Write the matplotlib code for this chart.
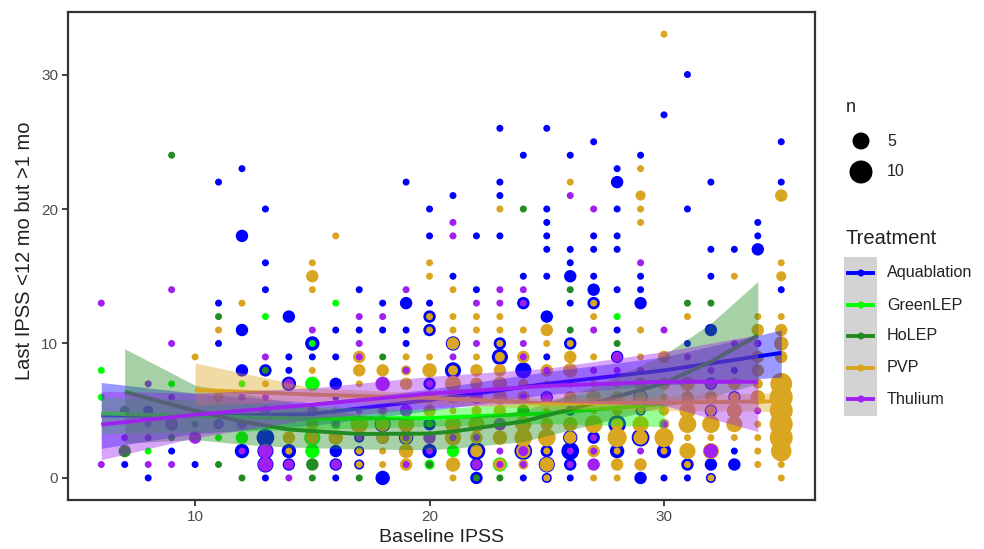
import numpy as np
import matplotlib
matplotlib.use('Agg')
import matplotlib.pyplot as plt
from matplotlib.patches import Rectangle, Ellipse
from matplotlib.lines import Line2D

plt.rcParams['font.family'] = ['Liberation Sans', 'DejaVu Sans']

# points are (baseline, last, n)
aqua_pts = [(31,30,1),(30,27,1),(23,26,1),(25,26,1),(27,25,1),(35,25,1),(24,24,1),(26,24,1),(29,24,1),
    (12,23,1),(28,23,1),(11,22,1),(19,22,1),(23,22,1),(28,22,3),(32,22,1),(35,22,1),(21,21,1),(23,21,1),
    (13,20,1),(20,20,1),(25,20,1),(28,20,1),(31,20,1),(25,19,1),(34,19,1),(12,18,3),(20,18,1),(22,18,1),
    (23,18,1),(25,18,1),(27,18,1),(28,18,1),(34,18,1),(25,17,1),(26,17,1),(27,17,1),(28,17,1),(32,17,1),
    (33,17,1),(34,17,3),(13,16,1),(26,16,1),(21,15,1),(24,15,1),(25,15,1),(26,15,3),(27,15,1),(29,15,1),
    (32,15,1),(13,14,1),(17,14,1),(22,14,1),(27,14,3),(28,14,1),(29,14,1),(35,14,1),(11,13,1),(18,13,1),
    (19,13,3),(20,13,1),(24,13,3),(26,13,1),(27,13,3),(29,13,3),(14,12,3),(20,12,3),(25,12,3),(12,11,3),
    (16,11,1),(17,11,1),(18,11,1),(19,11,1),(20,11,3),(28,11,1),(32,11,3),(11,10,1),(15,10,4),(19,10,1),
    (21,10,4),(23,10,3),(26,10,3),(31,10,1),(34,10,1),(14,9,1),(15,9,1),(16,9,1),(23,9,5),(25,9,1),(28,9,3),
    (12,8,3),(13,8,3),(14,8,1),(21,8,5),(24,8,5),(33,8,1),(14,7,4),(16,7,3),(20,7,3),(26,7,1),(32,7,3),
    (16,6,1),(22,6,3),(25,6,3),(29,6,4),(33,6,3),(8,5,2),(24,5,1),(26,5,2),(29,5,2),(32,5,3),(33,5,4),
    (9,4,3),(11,4,2),(18,4,5),(20,4,3),(28,4,6),(30,4,2),(13,3,6),(17,3,2),(18,3,3),(19,3,4),(26,3,4),
    (27,3,3),(29,3,6),(9,2,1),(12,2,4),(13,2,5),(14,2,4),(16,2,3),(17,2,2),(20,2,4),(22,2,6),(24,2,6),
    (25,2,3),(26,2,6),(28,2,4),(30,2,4),(33,2,1),(7,1,1),(10,1,1),(13,1,5),(14,1,3),(16,1,3),(17,1,2),
    (22,1,3),(25,1,5),(26,1,3),(31,1,3),(32,1,3),(33,1,3),(8,0,1),(13,0,1),(16,0,1),(18,0,4),(22,0,3),
    (24,0,1),(25,0,2),(26,0,1),(29,0,3),(30,0,1),(31,0,1),(32,0,2)]

green_pts = [(13,12,1),(16,13,1),(28,12,1),(15,10,1),(6,8,1),(12,7,1),(9,7,1),(15,7,4),(6,6,1),(16,4,2),
    (11,3,1),(12,3,3),(15,3,5),(22,3,2),(8,2,1),(15,2,4),(21,2,3),(20,1,2),(23,1,4)]

holep_pts = [(9,24,1),(24,20,1),(26,14,1),(11,12,1),(31,13,1),(32,13,1),(26,11,1),(28,10,1),(18,9,1),(13,8,1),
    (23,5,1),(24,5,3),(10,4,1),(7,5,2),(9,3,1),(20,4,1),(7,2,3),(11,1,1),(15,1,3),(20,1,1),(12,0,1),
    (15,0,1),(17,0,1),(22,0,1),(23,0,1)]

pvp_pts = [(30,33,1),(29,23,1),(26,22,1),(35,21,3),(29,21,2),(23,20,1),(29,20,1),(29,19,1),(16,18,1),(15,16,1),
    (20,16,1),(35,16,1),(15,15,3),(20,15,1),(33,15,1),(35,15,2),(15,14,1),(21,14,1),(12,13,1),(27,13,1),
    (11,11,1),(20,12,1),(21,12,1),(22,12,1),(23,12,1),(27,12,1),(31,12,1),(34,12,1),(35,12,1),(20,11,1),
    (21,11,1),(22,11,1),(23,11,1),(24,11,1),(25,11,3),(29,11,1),(34,11,3),(35,11,3),(21,10,3),(23,10,1),
    (25,10,1),(26,10,1),(35,10,4),(10,9,1),(17,9,3),(19,9,1),(20,9,1),(22,9,1),(23,9,2),(24,9,3),(26,9,3),
    (27,9,1),(29,9,1),(30,9,3),(34,9,3),(35,9,3),(15,8,1),(17,8,3),(18,8,3),(19,8,2),(20,8,4),(21,8,2),
    (22,8,3),(23,8,3),(25,8,3),(26,8,4),(34,8,3),(13,7,1),(17,7,1),(19,7,3),(21,7,5),(22,7,3),(23,7,4),
    (24,7,2),(25,7,1),(27,7,1),(28,7,1),(29,7,3),(30,7,3),(31,7,4),(33,7,3),(34,7,2),(35,7,9),(11,6,2),
    (20,6,3),(21,6,3),(23,6,4),(24,6,3),(26,6,3),(27,6,4),(28,6,3),(29,6,3),(30,6,1),(31,6,3),(32,6,3),
    (33,6,2),(34,6,4),(35,6,10),(16,5,1),(18,5,2),(20,5,3),(21,5,1),(22,5,2),(23,5,3),(25,5,1),(27,5,1),
    (28,5,2),(29,5,1),(30,5,2),(31,5,5),(32,5,2),(33,5,4),(35,5,10),(15,4,3),(17,4,6),(18,4,4),(19,4,5),
    (21,4,5),(22,4,5),(23,4,3),(24,4,5),(25,4,3),(26,4,4),(27,4,6),(28,4,3),(29,4,5),(30,4,2),(31,4,6),
    (32,4,6),(33,4,5),(34,4,1),(35,4,10),(14,3,3),(15,3,3),(16,3,4),(18,3,3),(19,3,3),(21,3,5),(22,3,3),
    (23,3,4),(24,3,6),(25,3,6),(26,3,3),(28,3,7),(29,3,4),(30,3,7),(31,3,1),(32,3,1),(33,3,1),(34,3,1),
    (35,3,10),(14,2,1),(17,2,1),(18,2,1),(19,2,4),(22,2,3),(24,2,4),(25,2,1),(27,2,3),(28,2,1),(30,2,1),
    (31,2,5),(32,2,5),(34,2,1),(35,2,8),(17,1,1),(18,1,1),(19,1,3),(21,1,4),(23,1,3),(24,1,2),(25,1,4),
    (28,1,3),(29,1,3),(31,1,1),(34,1,1),(35,1,1),(21,0,1),(25,0,1),(27,0,1),(28,0,1),(32,0,1),(35,0,1)]

thulium_pts = [(27,20,1),(21,19,1),(21,18,1),(26,21,1),(29,16,1),(9,14,1),(19,14,1),(23,14,1),(24,14,1),(6,13,1),
    (22,13,1),(23,13,1),(24,13,1),(17,12,1),(18,12,1),(15,11,1),(27,11,1),(30,11,1),(9,10,1),(17,10,1),
    (22,10,1),(24,10,1),(33,10,1),(34,10,1),(13,9,1),(17,9,1),(21,9,1),(24,9,1),(28,9,2),(31,9,1),(25,8,1),
    (27,8,1),(28,8,1),(29,8,1),(32,8,1),(19,8,1),(8,7,1),(14,7,2),(18,7,4),(20,7,1),(32,7,2),(9,6,1),
    (12,6,1),(13,6,1),(22,6,3),(24,6,1),(25,6,2),(13,5,2),(15,5,2),(17,5,1),(18,5,1),(19,5,3),(34,5,1),
    (8,4,1),(9,4,2),(11,4,1),(12,4,2),(16,4,1),(23,4,3),(30,4,1),(7,3,1),(8,3,1),(10,3,3),(17,3,1),(19,3,1),
    (20,3,3),(21,3,1),(22,3,1),(27,3,1),(12,2,1),(13,2,4),(20,2,1),(23,2,1),(24,2,2),(26,2,1),(27,2,1),
    (29,2,1),(32,2,4),(6,1,1),(8,1,1),(9,1,1),(13,1,4),(14,1,2),(16,1,2),(19,1,1),(22,1,2),(23,1,1),(24,1,1),
    (26,1,1),(27,1,3),(14,0,1)]

# smooth curves: x, fit, upper, lower
aqua_x = [6, 10, 15, 20, 25, 30, 35]
aqua_fit = [4.65, 4.6, 4.75, 5.8, 7.0, 8.0, 9.3]
aqua_hi = [7.1, 6.3, 5.6, 6.6, 7.9, 9.0, 11.0]
aqua_lo = [2.2, 3.3, 3.9, 5.0, 6.2, 6.9, 7.5]

green_x = [6, 10, 15, 20, 25, 30]
green_fit = [4.8, 4.6, 4.4, 4.45, 4.8, 5.5]
green_hi = [6.0, 5.8, 5.3, 5.1, 5.7, 7.5]
green_lo = [3.3, 3.4, 3.6, 3.85, 4.05, 3.8]

holep_x = [7, 10, 12, 14, 17, 20, 21, 24, 27, 30, 32, 34]
holep_fit = [6.4, 5.0, 4.2, 3.6, 3.27, 3.3, 3.45, 4.2, 5.55, 7.05, 8.65, 10.6]
holep_hi = [9.6, 6.9, 6.3, 5.6, 4.7, 4.3, 4.4, 5.0, 6.8, 9.15, 11.5, 14.6]
holep_lo = [2.6, 2.85, 2.5, 2.3, 2.15, 2.1, 2.2, 2.7, 4.0, 5.3, 6.0, 7.0]

pvp_x = [10, 15, 20, 25, 30, 35]
pvp_fit = [6.55, 6.2, 5.95, 5.55, 5.6, 5.7]
pvp_hi = [8.55, 6.7, 6.3, 5.95, 6.1, 6.35]
pvp_lo = [5.4, 5.7, 5.5, 5.15, 5.0, 4.95]

thulium_x = [6, 10, 15, 20, 25, 30, 34]
thulium_fit = [3.97, 4.7, 5.45, 6.27, 6.85, 7.15, 7.15]
thulium_hi = [6.45, 6.3, 6.7, 7.55, 8.15, 9.4, 10.65]
thulium_lo = [1.35, 3.0, 4.4, 5.2, 5.65, 5.4, 3.45]

treatments = ['Aquablation', 'GreenLEP', 'HoLEP', 'PVP', 'Thulium']
colors = ['#0000FF', '#00FF00', '#228B22', '#DAA520', '#A020F0']
all_pts = [aqua_pts, green_pts, holep_pts, pvp_pts, thulium_pts]
curves = [(aqua_x, aqua_fit, aqua_hi, aqua_lo), (green_x, green_fit, green_hi, green_lo),
          (holep_x, holep_fit, holep_hi, holep_lo), (pvp_x, pvp_fit, pvp_hi, pvp_lo),
          (thulium_x, thulium_fit, thulium_hi, thulium_lo)]


def dot_size(n):
    d = 7 + 16 * (np.sqrt(n) - 1) / (np.sqrt(10) - 1)
    return (d * 0.72) ** 2


W, H = 984, 549
fig = plt.figure(figsize=(W / 100, H / 100), dpi=100)
ax = fig.add_axes([68 / W, 1 - 500 / H, (815 - 68) / W, (500 - 12) / H])

z = 2
for pts, col in zip(all_pts, colors):
    p = np.array(pts, dtype=float)
    # bigger counts first so the small ones stay visible
    p = p[np.argsort(-p[:, 2])]
    ax.scatter(p[:, 0], p[:, 1], s=dot_size(p[:, 2]), color=col, linewidths=0, zorder=z)
    z += 1

for (cx, fit, hi, lo), col in zip(curves, colors):
    ax.fill_between(cx, lo, hi, color=col, alpha=0.4, linewidth=0, zorder=z)
    ax.plot(cx, fit, color=col, lw=2.8, zorder=z + 1, solid_capstyle='butt')
    z += 2

ax.set_xlim(4.58, 36.44)
ax.set_ylim(-1.64, 34.65)
ax.set_xticks([10, 20, 30])
ax.set_yticks([0, 10, 20, 30])
ax.tick_params(length=4, width=1.3, color='#333333', labelcolor='#4D4D4D', labelsize=11, pad=3)
for s in ax.spines.values():
    s.set_linewidth(1.6)
    s.set_color('#333333')
ax.set_xlabel('Baseline IPSS', fontsize=14, color='#222222', labelpad=4)


# legends drawn by hand in pixel positions
def px(x, y):
    return x / W, 1 - y / H


fig.text(*px(25, 251), 'Last IPSS <12 mo but >1 mo', fontsize=14.5, color='#222222',
         rotation=90, va='center', ha='center')

fig.text(*px(846, 107), 'n', fontsize=13, va='center', color='#222222')
for yy, d, lab in [(141, 17, '5'), (172, 23, '10')]:
    fig.add_artist(Ellipse(px(861, yy), d / W, d / H, color='black', lw=0, transform=fig.transFigure))
    fig.text(*px(887, yy), lab, fontsize=11.5, va='center', color='#222222')

fig.text(*px(845, 238), 'Treatment', fontsize=14.5, va='center', color='#222222')
fig.add_artist(Rectangle(px(844, 416), 33 / W, 159 / H, color='#D3D3D3', lw=0, transform=fig.transFigure))
for yy, lab, col in zip([273, 305, 336, 368, 399], treatments, colors):
    x0, y0 = px(848, yy)
    x1, _ = px(873, yy)
    fig.add_artist(Line2D([x0, x1], [y0, y0], color=col, lw=2.8, transform=fig.transFigure))
    fig.add_artist(Ellipse(px(861, yy), 7 / W, 7 / H, color=col, lw=0, transform=fig.transFigure))
    fig.text(*px(887, yy), lab, fontsize=11.6, va='center', color='#222222')

fig.savefig('out.png', dpi=100)
